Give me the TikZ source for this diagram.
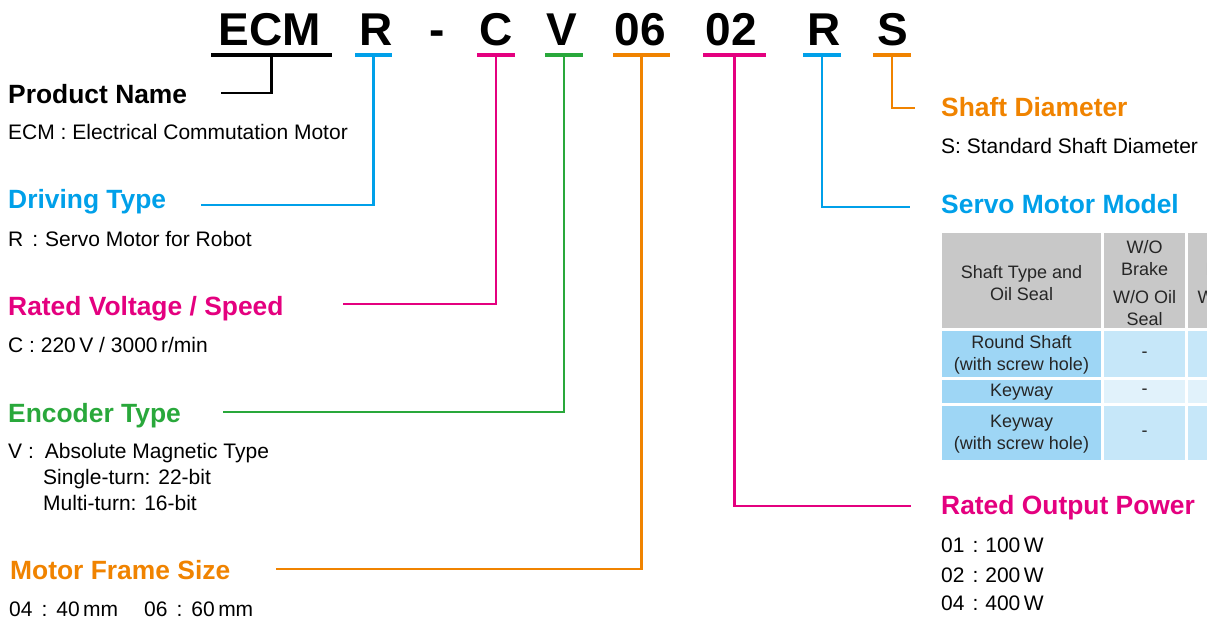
\documentclass[tikz,border=0pt]{standalone}
\usepackage{fontspec}
\setmainfont{Liberation Sans}
\usepackage{xcolor}
\usepackage{tikz}
\usetikzlibrary{positioning}
\definecolor{motblue}{RGB}{0,160,233}
\definecolor{motpink}{RGB}{228,0,127}
\definecolor{motgreen}{RGB}{41,168,59}
\definecolor{motorange}{RGB}{240,131,0}
\definecolor{cellgray}{RGB}{200,200,200}
\definecolor{celldark}{RGB}{158,214,245}
\definecolor{cellmid}{RGB}{198,231,249}
\definecolor{celllight}{RGB}{225,242,251}

\begin{document}
\begin{tikzpicture}[x=1pt, y=-1pt,
    code/.style={font=\fontsize{46}{46}\selectfont\bfseries, anchor=base, inner sep=0},
    uline/.style={inner sep=0, minimum height=4pt},
    conn/.style={line width=2.6pt},
    head/.style={font=\fontsize{26.4}{30}\selectfont\bfseries, anchor=base west, inner sep=0},
    body/.style={font=\fontsize{21}{26}\selectfont, anchor=base west, inner sep=0},
    cell/.style={font=\fontsize{18}{21.5}\selectfont, text=black!85, align=center, inner sep=0}]
    \useasboundingbox (0,0) rectangle (1207,621);
    \clip (0,0) rectangle (1207,621);

    % Model code
    \node[code] (cECM) at (270,45) {ECM};
    \node[code] (cR1) at (376,45) {R};
    \node[code] (cDash) at (437,45) {-};
    \node[code] (cC) at (496,45) {C};
    \node[code] (cV) at (562,45) {V};
    \node[code] (c06) at (640.5,45) {06};
    \node[code] (c02) at (731,45) {02};
    \node[code] (cR2) at (824,45) {R};
    \node[code] (cS) at (893,45) {S};

    % Underlines below the code
    \node[uline, fill=black, minimum width=121pt] (uECM) at (271.5,55) {};
    \node[uline, fill=motblue, minimum width=37pt] (uR1) at (373.5,55) {};
    \node[uline, fill=motpink, minimum width=38pt] (uC) at (496,55) {};
    \node[uline, fill=motgreen, minimum width=38pt] (uV) at (564,55) {};
    \node[uline, fill=motorange, minimum width=57pt] (u06) at (641.5,55) {};
    \node[uline, fill=motpink, minimum width=63pt] (u02) at (734.5,55) {};
    \node[uline, fill=motblue, minimum width=38pt] (uR2) at (822,55) {};
    \node[uline, fill=motorange, minimum width=38pt] (uS) at (892,55) {};

    % Left side
    \node[head] (hProd) at (8,103) {Product Name};
    \node[body] (tProd) at (8,139) {ECM : Electrical Commutation Motor};
    \node[head, text=motblue] (hDrive) at (8,208) {Driving Type};
    \node[body] (tDrive) at (8,246) {R\hspace{9pt}:\hspace{7pt}Servo Motor for Robot};
    \node[head, text=motpink] (hVolt) at (8,315) {Rated Voltage / Speed};
    \node[body] (tVolt) at (8,352) {C : 220\,V / 3000\,r/min};
    \node[head, text=motgreen] (hEnc) at (8,422) {Encoder Type};
    \node[body] (tEnc1) at (8,458) {V :\hspace{11pt}Absolute Magnetic Type};
    \node[body] (tEnc2) at (43,484) {Single-turn: 22-bit};
    \node[body] (tEnc3) at (43,510) {Multi-turn: 16-bit};
    \node[head, text=motorange] (hFrame) at (10,579) {Motor Frame Size};
    \node[body] (tFrame) at (9,616) {04\hspace{9pt}:\hspace{9pt}40\,mm\hspace{26pt}06\hspace{9pt}:\hspace{9pt}60\,mm};

    % Right side
    \node[head, text=motorange] (hShaft) at (941,116) {Shaft Diameter};
    \node[body] (tShaft) at (941,153) {S: Standard Shaft Diameter};
    \node[head, text=motblue] (hModel) at (941,213) {Servo Motor Model};
    \node[head, text=motpink] (hPow) at (941,514) {Rated Output Power};
    \node[body] (tPow1) at (941,552) {01\hspace{8pt}:\hspace{7pt}100\,W};
    \node[body] (tPow2) at (941,582) {02\hspace{8pt}:\hspace{7pt}200\,W};
    \node[body] (tPow3) at (941,610) {04\hspace{8pt}:\hspace{7pt}400\,W};

    % Free ends of the connectors
    \coordinate (pProd) at (221,93);
    \coordinate (pDrive) at (201,205);
    \coordinate (pVolt) at (343,304);
    \coordinate (pEnc) at (223,412);
    \coordinate (pFrame) at (276,569);
    \coordinate (pPow) at (911,506);
    \coordinate (pModel) at (910,207);
    \coordinate (pShaft) at (915,108);

    % Connectors
    \draw[conn, black] (pProd) -| (uECM.south);
    \draw[conn, motblue] (pDrive) -| (uR1.south);
    \draw[conn, motpink] (pVolt) -| (uC.south);
    \draw[conn, motgreen] (pEnc) -| (uV.south);
    \draw[conn, motorange] (pFrame) -| (u06.south);
    \draw[conn, motpink] (u02.south) |- (pPow);
    \draw[conn, motblue] (uR2.south) |- (pModel);
    \draw[conn, motorange] (uS.south) |- (pShaft);

    % Table (cut at the right edge)
    \fill[cellgray] (942,233) rectangle (1101,328);
    \fill[cellgray] (1104,233) rectangle (1185,328);
    \fill[cellgray] (1188,233) rectangle (1270,328);
    \fill[celldark] (942,331) rectangle (1101,377);
    \fill[celldark] (942,380) rectangle (1101,403);
    \fill[celldark] (942,406) rectangle (1101,460);
    \foreach \xa/\xb in {1104/1185, 1188/1270} {
        \fill[cellmid] (\xa,331) rectangle (\xb,377);
        \fill[celllight] (\xa,380) rectangle (\xb,403);
        \fill[cellmid] (\xa,406) rectangle (\xb,460);
    }
    \node[cell] (tbHead) at (1021.5,283) {Shaft Type and\\Oil Seal};
    \node[cell] (tbNoBrake) at (1144.5,283) {W/O\\Brake\\[7pt]W/O Oil\\Seal};
    \node[cell] (tbBrake) at (1229,283) {With\\Brake\\[7pt]W/O Oil\\Seal};
    \node[cell] (tbRound) at (1021.5,355) {Round Shaft\\(with screw hole)};
    \node[cell] (tbKey) at (1021.5,392) {Keyway};
    \node[cell] (tbKeyHole) at (1021.5,434) {Keyway\\(with screw hole)};
    \foreach \y/\n in {355/a, 392/b, 434/c} {
        \node[cell] (tbDash\n) at (1144.5,\y) {-};
    }
\end{tikzpicture}
\end{document}
